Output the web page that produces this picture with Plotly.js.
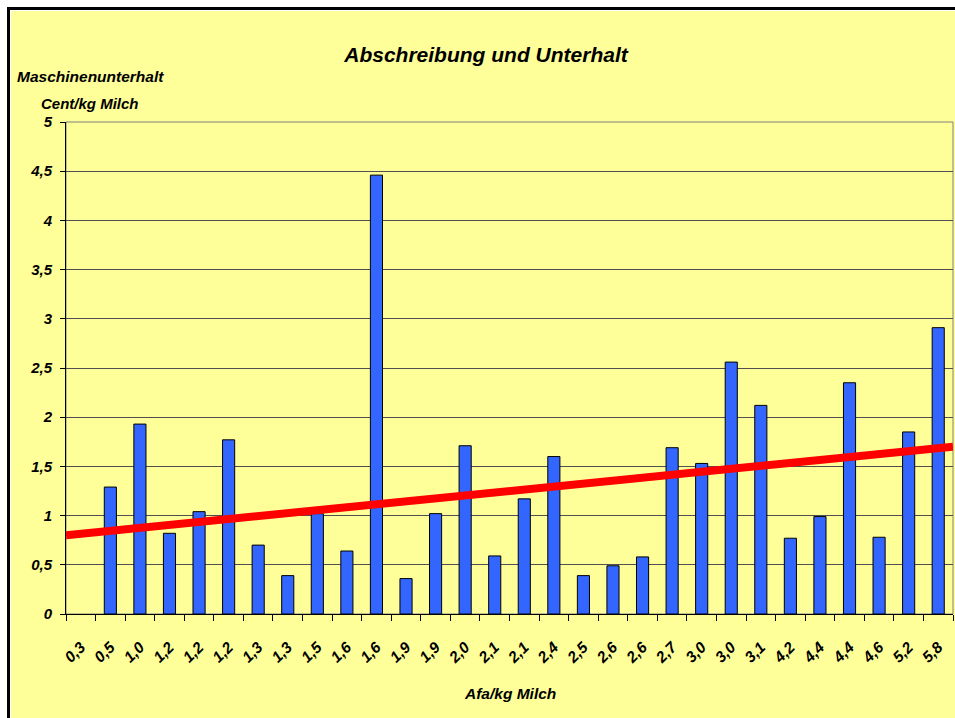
<!DOCTYPE html>
<html>
<head>
<meta charset="utf-8">
<script src="https://cdn.plot.ly/plotly-3.0.1.min.js"></script>
<style>
  html, body { margin: 0; padding: 0; background: #ffffff; overflow: hidden; width: 955px; height: 718px; }
  #frame { position: absolute; left: 7px; top: 7px; border: 3px solid #000; padding: 1px; background: #fff; }
  #chart { width: 960px; height: 720px; background: #FFFF99; }
</style>
</head>
<body>
<div id="frame"><div id="chart"></div></div>
<script>
// Categories (Afa/kg Milch) as printed on the x axis
const categories = ["0,3","0,5","1,0","1,2","1,2","1,2","1,3","1,3","1,5","1,6",
                    "1,6","1,9","1,9","2,0","2,1","2,1","2,4","2,5","2,6","2,6",
                    "2,7","3,0","3,0","3,1","4,2","4,4","4,4","4,6","5,2","5,8"];
// Maschinenunterhalt, Cent/kg Milch
const unterhalt = [null, 1.29, 1.93, 0.82, 1.04, 1.77, 0.70, 0.39, 1.02, 0.64,
                   4.46, 0.36, 1.02, 1.71, 0.59, 1.17, 1.60, 0.39, 0.49, 0.58,
                   1.69, 1.53, 2.56, 2.12, 0.77, 0.99, 2.35, 0.78, 1.85, 2.91];
// Linear trend line, read at the left and right edges of the plot
const trendPos = [-0.5, 29.5];
const trendVal = [0.80, 1.70];
// Y tick values
const yTicks = [0, 0.5, 1, 1.5, 2, 2.5, 3, 3.5, 4, 4.5, 5];

const positions = categories.map((c, i) => i);
const FONT = "Liberation Sans, Arial, sans-serif";

const traces = [
  {
    type: "bar",
    x: positions,
    y: unterhalt,
    marker: { color: "#3366FF", line: { color: "#000000", width: 1 } },
    hoverinfo: "y"
  },
  {
    type: "scatter",
    mode: "lines",
    x: trendPos,
    y: trendVal,
    line: { color: "#FF0000", width: 8 },
    hoverinfo: "skip"
  }
];

const layout = {
  width: 960,
  height: 720,
  paper_bgcolor: "#FFFF99",
  plot_bgcolor: "#FFFF99",
  separators: ", ",
  showlegend: false,
  bargap: 0.59,
  margin: { l: 55, r: 18, t: 111, b: 117 },
  font: { family: FONT, color: "#000" },
  title: {
    text: "Abschreibung und Unterhalt",
    font: { family: FONT, size: 21, weight: "bold", style: "italic", color: "#000" },
    xref: "paper", x: 0.4735, xanchor: "center",
    yref: "container", y: 0.940, yanchor: "middle"
  },
  xaxis: {
    range: [-0.5, 29.5],
    tickmode: "array",
    tickvals: positions,
    ticktext: categories,
    tickangle: -45,
    ticks: "outside",
    ticklen: 17,
    tickcolor: "rgba(0,0,0,0)",
    tickfont: { family: FONT, size: 15.5, weight: "bold", style: "italic", color: "#000" },
    minor: { tickmode: "linear", tick0: -0.5, dtick: 1, ticks: "outside", ticklen: 6, tickcolor: "#000", tickwidth: 1, showgrid: false },
    showline: true, linecolor: "#000", linewidth: 1,
    showgrid: false, zeroline: false, fixedrange: true
  },
  yaxis: {
    range: [0, 5],
    tickmode: "array",
    tickvals: yTicks,
    ticks: "outside",
    ticklen: 5,
    tickcolor: "#000",
    ticklabelstandoff: 5,
    tickfont: { family: FONT, size: 15, weight: "bold", style: "italic", color: "#000" },
    showline: true, linecolor: "#000", linewidth: 1,
    showgrid: true, gridcolor: "#505050", gridwidth: 1,
    zeroline: false, fixedrange: true
  },
  shapes: [
    { type: "rect", xref: "paper", yref: "paper", x0: 0, x1: 1, y0: 0, y1: 1,
      line: { color: "#808080", width: 1 }, layer: "below" }
  ],
  annotations: [
    { text: "Maschinenunterhalt", xref: "paper", yref: "paper", x: -0.0564, y: 1.0915,
      xanchor: "left", yanchor: "middle", showarrow: false, borderpad: 0,
      font: { family: FONT, size: 15.5, weight: "bold", style: "italic", color: "#000" } },
    { text: "Cent/kg Milch", xref: "paper", yref: "paper", x: -0.0293, y: 1.0386,
      xanchor: "left", yanchor: "middle", showarrow: false, borderpad: 0,
      font: { family: FONT, size: 15, weight: "bold", style: "italic", color: "#000" } },
    { text: "Afa/kg Milch", xref: "paper", yref: "paper", x: 0.5, y: -0.1606,
      xanchor: "center", yanchor: "middle", showarrow: false, borderpad: 0,
      font: { family: FONT, size: 15.5, weight: "bold", style: "italic", color: "#000" } }
  ]
};

Plotly.newPlot("chart", traces, layout, { displayModeBar: false, staticPlot: true });
</script>
</body>
</html>
